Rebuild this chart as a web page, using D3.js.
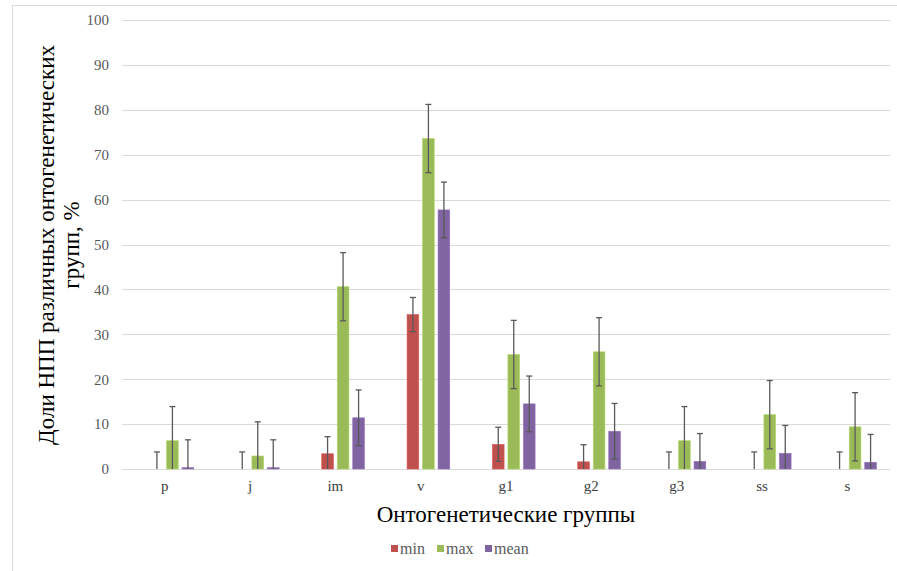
<!DOCTYPE html>
<html>
<head>
<meta charset="utf-8">
<script src="https://cdn.jsdelivr.net/npm/d3@7/dist/d3.min.js"></script>
<style>
  html, body { margin: 0; padding: 0; background: #ffffff; }
  svg { display: block; }
</style>
</head>
<body>
<svg id="chart" width="897" height="571"></svg>
<script>
// ---- data ----
const categories = ["p", "j", "im", "v", "g1", "g2", "g3", "ss", "s"];
const seriesNames = ["min", "max", "mean"];
const minValues  = [0, 0, 3.4, 34.4, 5.5, 1.6, 0, 0, 0];
const maxValues  = [6.3, 2.9, 40.6, 73.6, 25.5, 26.1, 6.3, 12.1, 9.4];
const meanValues = [0.3, 0.3, 11.4, 57.7, 14.5, 8.4, 1.7, 3.5, 1.5];
const minErrors  = [3.8, 3.8, 3.8, 3.8, 3.8, 3.8, 3.8, 3.8, 3.8];
const maxErrors  = [7.6, 7.6, 7.6, 7.6, 7.6, 7.6, 7.6, 7.6, 7.6];
const meanErrors = [6.2, 6.2, 6.2, 6.2, 6.2, 6.2, 6.2, 6.2, 6.2];
const yTicks = [0, 10, 20, 30, 40, 50, 60, 70, 80, 90, 100];
const colors = ["#C0504D", "#9BBB59", "#8064A2"];
const yTitleLines = ["Доли НПП различных онтогенетических", "групп, %"];
const xTitle = "Онтогенетические группы";

const seriesValues = [minValues, maxValues, meanValues];
const seriesErrors = [minErrors, maxErrors, meanErrors];

const svg = d3.select("#chart");
const font = "'Liberation Serif', 'Times New Roman', serif";

// outer chart border
svg.append("rect")
  .attr("x", 12.5).attr("y", 5.5)
  .attr("width", 897).attr("height", 580)
  .attr("fill", "none").attr("stroke", "#d9d9d9").attr("stroke-width", 1);

const plot = { left: 122, right: 890, top: 20, bottom: 469 };

const x0 = d3.scaleBand().domain(categories).range([plot.left, plot.right]).padding(0);
// the original chart reserves an empty leading slot in each cluster
const slots = ["", ...seriesNames];
const x1 = d3.scaleBand().domain(slots)
  .range([(x0.bandwidth() - 62) / 2, (x0.bandwidth() + 62) / 2])
  .paddingInner(0.245).paddingOuter(0.1225);
const y = d3.scaleLinear().domain([0, 100]).range([plot.bottom, plot.top]);

// gridlines
svg.append("g").selectAll("line").data(yTicks).join("line")
  .attr("x1", plot.left).attr("x2", plot.right)
  .attr("y1", d => Math.round(y(d)) + 0.5).attr("y2", d => Math.round(y(d)) + 0.5)
  .attr("stroke", "#d9d9d9").attr("stroke-width", 1.2);

// y axis tick labels
const yAxis = d3.axisLeft(y).tickValues(yTicks).tickSize(0).tickPadding(0);
const gy = svg.append("g").attr("transform", `translate(109,0)`).call(yAxis);
gy.select(".domain").remove();
gy.selectAll("text")
  .attr("font-family", font).attr("font-size", 15).attr("fill", "#595959");

// x axis tick labels
const xAxis = d3.axisBottom(x0).tickSize(0).tickPadding(0);
const gx = svg.append("g").attr("transform", `translate(0,480)`).call(xAxis);
gx.select(".domain").remove();
gx.selectAll("text")
  .attr("font-family", font).attr("font-size", 15).attr("fill", "#404040");

// bars
const groups = svg.append("g").selectAll("g").data(categories).join("g")
  .attr("transform", d => `translate(${x0(d)},0)`);

seriesNames.forEach((s, si) => {
  groups.append("rect")
    .attr("x", x1(s))
    .attr("width", x1.bandwidth())
    .attr("y", (d, i) => y(seriesValues[si][i]))
    .attr("height", (d, i) => y(0) - y(seriesValues[si][i]))
    .attr("fill", colors[si])
    .attr("stroke", d3.color(colors[si]).brighter(0.4))
    .attr("stroke-width", 0.6);
});

// error bars
seriesNames.forEach((s, si) => {
  const cx = x1(s) + x1.bandwidth() / 2;
  const g = groups.append("g").attr("stroke", "#595959").attr("stroke-width", 1.3);
  g.append("line")
    .attr("x1", cx).attr("x2", cx)
    .attr("y1", (d, i) => y(seriesValues[si][i] + seriesErrors[si][i]))
    .attr("y2", (d, i) => y(Math.max(0, seriesValues[si][i] - seriesErrors[si][i])));
  g.append("line")
    .attr("x1", cx - 3).attr("x2", cx + 3)
    .attr("y1", (d, i) => y(seriesValues[si][i] + seriesErrors[si][i]))
    .attr("y2", (d, i) => y(seriesValues[si][i] + seriesErrors[si][i]));
  g.append("line")
    .attr("x1", cx - 3).attr("x2", cx + 3)
    .attr("y1", (d, i) => y(seriesValues[si][i] - seriesErrors[si][i]))
    .attr("y2", (d, i) => y(seriesValues[si][i] - seriesErrors[si][i]))
    .attr("display", (d, i) => seriesValues[si][i] - seriesErrors[si][i] > 0 ? null : "none");
});

// y title
const yt = svg.append("text")
  .attr("transform", `translate(0,245) rotate(-90)`)
  .attr("text-anchor", "middle")
  .attr("font-family", font).attr("font-size", 23).attr("fill", "#000");
yt.selectAll("tspan").data(yTitleLines).join("tspan")
  .attr("x", 0).attr("y", (d, i) => 54 + i * 25)
  .text(d => d);

// x title
svg.append("text")
  .attr("x", 506).attr("y", 522)
  .attr("text-anchor", "middle")
  .attr("font-family", font).attr("font-size", 23).attr("fill", "#000")
  .text(xTitle);

// legend
const legendX = [391, 437, 485];
const lg = svg.append("g").selectAll("g").data(seriesNames).join("g")
  .attr("transform", (d, i) => `translate(${legendX[i]},545)`);
lg.append("rect").attr("width", 7).attr("height", 7)
  .attr("fill", (d, i) => colors[i]);
lg.append("text").attr("x", 9).attr("y", 9)
  .attr("font-family", font).attr("font-size", 16).attr("fill", "#595959")
  .text(d => d);
</script>
</body>
</html>
